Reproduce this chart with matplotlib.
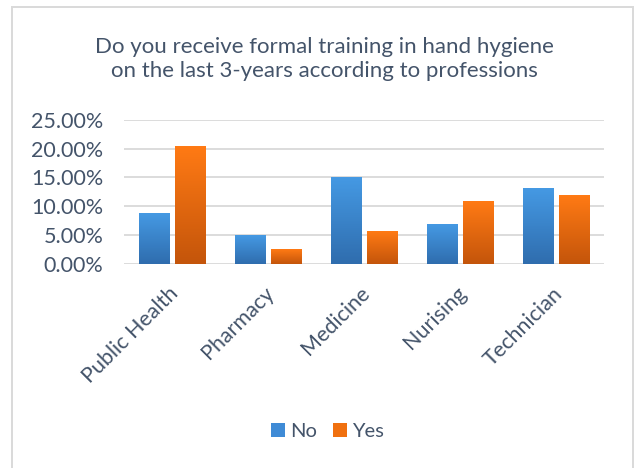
import matplotlib
matplotlib.use("Agg")
import matplotlib.pyplot as plt
import numpy as np
from matplotlib.patches import Rectangle
from matplotlib.colors import LinearSegmentedColormap
import matplotlib.transforms as mtransforms

categories = ["Public Health", "Pharmacy", "Medicine", "Nurising", "Technician"]
no_vals = [8.77, 5.0, 15.08, 6.9, 13.17]
yes_vals = [20.48, 2.56, 5.69, 10.9, 11.95]
series_names = ["No", "Yes"]
title = "Do you receive formal training in hand hygiene\non the last 3-years according to professions"

text_color = "#44546A"
plt.rcParams['font.family'] = ['Lato', 'DejaVu Sans']

fig = plt.figure(figsize=(6.34, 4.68), dpi=100)
ax = fig.add_axes([0.1956, 0.4365, 0.7571, 0.3071])

x = np.arange(len(categories))
w = 0.3125
off = 0.035 + w / 2
bars_no = ax.bar(x - off, no_vals, w, color="#3F8BD6", label=series_names[0], zorder=3)
bars_yes = ax.bar(x + off, yes_vals, w, color="#F0700F", label=series_names[1], zorder=3)

cm_blue = LinearSegmentedColormap.from_list("b", ["#2F6DAE", "#4599E3"])
cm_orange = LinearSegmentedColormap.from_list("o", ["#C4550B", "#FF7A14"])
grad = np.linspace(0, 1, 64).reshape(-1, 1)
for bars, cm in ((bars_no, cm_blue), (bars_yes, cm_orange)):
    for b in bars:
        x0, y0 = b.get_x(), b.get_y()
        bw, bh = b.get_width(), b.get_height()
        im = ax.imshow(grad, cmap=cm, origin="lower", aspect="auto",
                       extent=[x0, x0 + bw, y0, y0 + bh], zorder=4)
        im.set_clip_path(b)

ax.set_xlim(-0.5, len(categories) - 0.5)
ax.set_ylim(0, 25)
ax.set_yticks([0, 5, 10, 15, 20, 25])
ax.set_yticklabels([f"{v:.2f}%" for v in [0, 5, 10, 15, 20, 25]])
ax.yaxis.grid(True, color="#D9D9D9", linewidth=1.3, zorder=0)
ax.set_axisbelow(True)
for s in ax.spines.values():
    s.set_visible(False)
ax.tick_params(axis="both", length=0, colors=text_color, labelsize=15.5)
ax.tick_params(axis="y", pad=15)
ax.set_xticks(x)
ax.set_xticklabels(categories, rotation=45, ha="right", rotation_mode="anchor")
ax.tick_params(axis="x", pad=14)
shift = mtransforms.ScaledTranslation(-4 / 100, 0, fig.dpi_scale_trans)
for lbl in ax.get_xticklabels():
    lbl.set_transform(lbl.get_transform() + shift)

fig.text(0.512, 0.874, title, ha="center", va="center", fontsize=16,
         color=text_color, linespacing=1.3)

leg = fig.legend(handles=[bars_no, bars_yes], labels=series_names, loc="center",
                 bbox_to_anchor=(0.5166, 0.0776), ncol=2, frameon=False,
                 fontsize=14.5, handlelength=0.7, handleheight=0.7,
                 handletextpad=0.25, columnspacing=0.8)
for t in leg.get_texts():
    t.set_color(text_color)

fig.patches.append(Rectangle((0.019, -0.01), 0.979, 0.994, transform=fig.transFigure,
                             fill=False, edgecolor="#D9D9D9", linewidth=1.4))

fig.savefig("out.png", dpi=100)
